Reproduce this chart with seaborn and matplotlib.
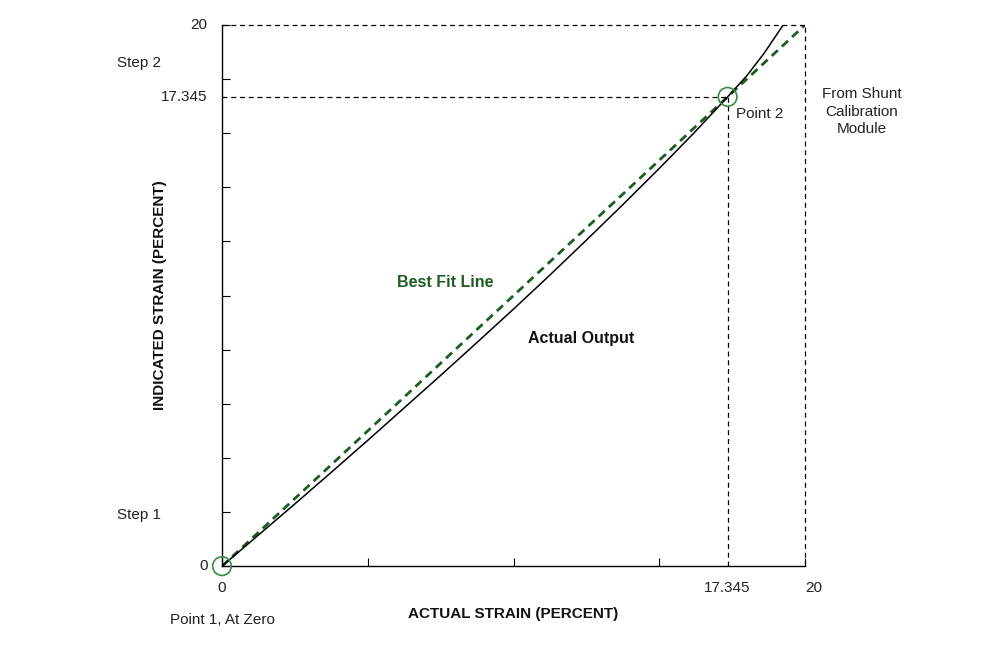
import numpy as np
import matplotlib
matplotlib.use("Agg")
import matplotlib.pyplot as plt
import seaborn as sns

# data
fit_x = [0, 20]
fit_y = [0, 20]
actual_x = [0, 1.25, 2.5, 3.75, 5, 6.25, 7.5, 8.75, 10, 11.25, 12.5, 13.75,
            15, 16.2, 17.345, 18.0, 18.6, 19.25]
actual_y = [0, 1.15, 2.3, 3.47, 4.65, 5.85, 7.05, 8.27, 9.5, 10.76, 12.05,
            13.36, 14.7, 16.02, 17.345, 18.12, 18.96, 20]
point2 = 17.345
full = 20
x_ticks = [0, 5, 10, 15, 20]
y_ticks = list(range(0, 21, 2))

sns.set_theme(style="white")
plt.rcParams["font.family"] = ["Liberation Sans", "DejaVu Sans"]
green = "#1f5c24"

fig = plt.figure(figsize=(10, 6.5), dpi=100)
ax = fig.add_axes([0.222, 0.129, 0.583, 0.8325])
ax.set_xlim(0, 20)
ax.set_ylim(0, 20)

sns.lineplot(x=fit_x, y=fit_y, ax=ax, color=green, lw=2, linestyle=(0, (3, 2)))
sns.lineplot(x=actual_x, y=actual_y, ax=ax, color="black", lw=1.1, sort=False)

dash = dict(color="black", lw=0.9, linestyle=(0, (4, 3)), clip_on=False)
ax.plot([0, full], [full, full], **dash)
ax.plot([full, full], [0, full], **dash)
ax.plot([0, point2], [point2, point2], **dash)
ax.plot([point2, point2], [0, point2], **dash)

ax.scatter([0, point2], [0, point2], s=180, facecolors="none",
           edgecolors="#3a8a45", linewidths=1.2, clip_on=False, zorder=5)

for s in ["top", "right"]:
    ax.spines[s].set_visible(False)
for s in ["left", "bottom"]:
    ax.spines[s].set_color("black")
    ax.spines[s].set_linewidth(1)

ax.set_xticks(x_ticks)
ax.set_yticks(y_ticks)
ax.set_xticklabels([])
ax.set_yticklabels([])
ax.tick_params(direction="in", length=6, color="black", width=0.8,
               bottom=True, left=True)

t = dict(fontsize=11, color="#222222")
ax.text(0, -0.55, "0", ha="center", va="top", **t)
ax.text(point2, -0.55, "17.345", ha="center", va="top", **t)
ax.text(full + 0.3, -0.55, "20", ha="center", va="top", **t)
ax.text(-0.5, 0, "0", ha="right", va="center", **t)
ax.text(-0.5, point2, "17.345", ha="right", va="center", **t)
ax.text(-0.5, full, "20", ha="right", va="center", **t)

ax.text(-3.6, 18.6, "Step 2", ha="left", va="center", **t)
ax.text(-3.6, 1.9, "Step 1", ha="left", va="center", **t)
ax.text(-1.8, -2.0, "Point 1, At Zero", ha="left", va="center", **t)
ax.text(point2 + 0.3, 16.7, "Point 2", ha="left", va="center", **t)
ax.text(21.95, 16.8, "From Shunt\nCalibration\nModule", ha="center", va="center",
        linespacing=1.35, **t)

ax.text(6.0, 10.5, "Best Fit Line", color=green, fontsize=11.5,
        fontweight="bold", ha="left", va="center")
ax.text(10.5, 8.4, "Actual Output", color="#111111", fontsize=11.5,
        fontweight="bold", ha="left", va="center")

ax.set_xlabel("ACTUAL STRAIN (PERCENT)", fontsize=11, fontweight="bold",
              labelpad=26, color="#111111")
ax.set_ylabel("INDICATED STRAIN (PERCENT)", fontsize=11, fontweight="bold",
              labelpad=36, color="#111111")

fig.savefig("out.png", dpi=100)
